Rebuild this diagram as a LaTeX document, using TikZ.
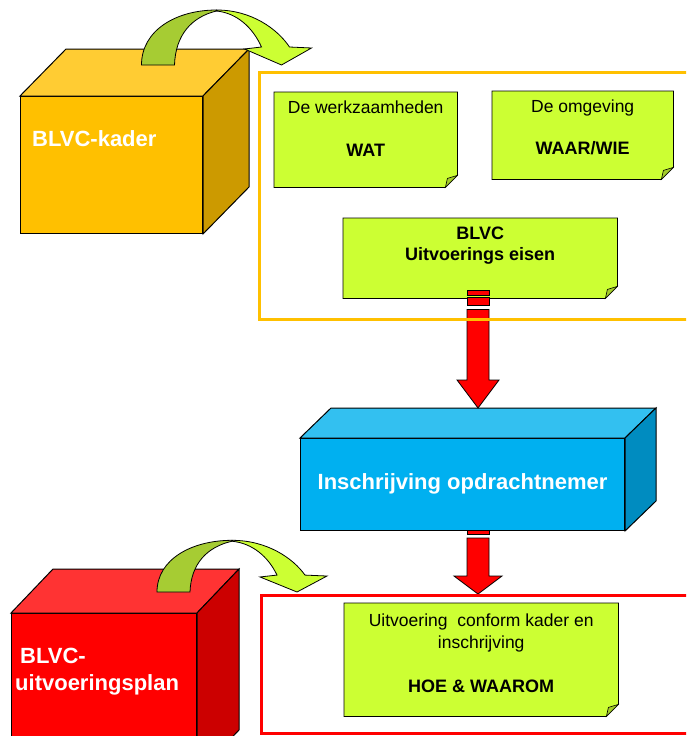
\documentclass[tikz,border=0pt]{standalone}
\usepackage{fontspec}
\setmainfont{Liberation Sans}
\usetikzlibrary{calc,backgrounds,positioning}

\definecolor{kaderfront}{HTML}{FFC000}
\definecolor{kadertop}{HTML}{FFCC33}
\definecolor{kaderside}{HTML}{CC9A00}
\definecolor{inschrfront}{HTML}{00B0F0}
\definecolor{inschrtop}{HTML}{33C0F0}
\definecolor{inschrside}{HTML}{008CC0}
\definecolor{planfront}{HTML}{FF0000}
\definecolor{plantop}{HTML}{FF3333}
\definecolor{planside}{HTML}{CC0000}
\definecolor{notegreen}{HTML}{CCFF33}
\definecolor{notefold}{HTML}{A3CC29}
\definecolor{curldark}{HTML}{A6CC33}
\definecolor{curllight}{HTML}{CCFF33}

\tikzset{
  cubefront/.style={draw=black, line width=1pt, anchor=north west, inner sep=0pt},
  note/.style={anchor=north west, inner sep=0pt},
  frame/.style={line width=3pt, anchor=north west, inner sep=0pt},
  notetxt/.style={anchor=base, inner sep=0pt, font=\fontsize{17.5}{20}\selectfont},
  notebold/.style={anchor=base, inner sep=0pt, font=\fontsize{18}{21}\selectfont\bfseries},
  cubetxt/.style={anchor=base west, inner sep=0pt, text=white,
    font=\fontsize{22}{26}\selectfont\bfseries},
  redblock/.style={fill=red, draw=black, line width=0.8pt},
  pics/curlarrow/.style={code={
    \filldraw[draw=black, line width=0.8pt, fill=curldark]
      (0,0) .. controls (0,-35) and (35,-55) .. (75,-55) -- (75,-54)
      .. controls (50,-48) and (34,-30) .. (33,0) -- cycle;
    \filldraw[draw=black, line width=0.8pt, fill=curllight]
      (75,-55) .. controls (110,-55) and (136,-36) .. (148,-18) -- (170,-17)
      -- (140,0) -- (103,-16) -- (120,-18)
      .. controls (111,-38) and (95,-52) .. (75,-54) -- cycle;
  }}
}

% top and side of a box: node, dx, dy, top colour, side colour
\newcommand{\cubesides}[5]{%
  \filldraw[draw=black, line width=1pt, fill=#4] (#1.north west) -- ++(#2,#3)
    -- ($(#1.north east)+(#2,#3)$) -- (#1.north east) -- cycle;
  \filldraw[draw=black, line width=1pt, fill=#5] (#1.north east) -- ++(#2,#3)
    -- ($(#1.south east)+(#2,#3)$) -- (#1.south east) -- cycle;
}

% green sheet with folded corner, behind the text
\newcommand{\notepaper}[1]{%
  \begin{pgfonlayer}{background}
  \filldraw[draw=black, line width=0.8pt, fill=notegreen] (#1.north west) -- (#1.north east)
    -- ($(#1.south east)+(0,-12)$) -- ($(#1.south east)+(-12,0)$) -- (#1.south west) -- cycle;
  \filldraw[draw=black, line width=0.6pt, fill=notefold] ($(#1.south east)+(0,-12)$)
    -- ($(#1.south east)+(-12,0)$) -- ($(#1.south east)+(-10,-9)$) -- cycle;
  \end{pgfonlayer}}

% start, tip, head length, head half width
\newcommand{\redblockarrow}[4]{%
  \filldraw[redblock] ($(#1)+(-11,0)$) rectangle ($(#1)+(11,5)$);
  \filldraw[redblock] ($(#1)+(-11,7)$) rectangle ($(#1)+(11,15)$);
  \filldraw[redblock] ($(#1)+(-11,19)$) -- ($(#2)+(-11,-#3)$) -- ($(#2)+(-#4,-#3)$)
    -- (#2) -- ($(#2)+(#4,-#3)$) -- ($(#2)+(11,-#3)$) -- ($(#1)+(11,19)$) -- cycle;
}

\begin{document}
\begin{tikzpicture}[x=1pt,y=-1pt]
\useasboundingbox (0,0) rectangle (686,736);
\clip (0,0) rectangle (686,736);

%% BLVC-kader
\node[cubefront, fill=kaderfront, minimum width=182pt, minimum height=137pt] (kader) at (20,96) {};
\cubesides{kader}{46}{-47}{kadertop}{kaderside}
\node[cubetxt] (kader-t) at ([xshift=12pt,yshift=-50pt]kader.north west) {BLVC-kader};
\coordinate (kader-foot) at ($(kader.north)+(30,-31)$);
\pic at (kader-foot) {curlarrow};

%% notes in the kader
\node[note, minimum width=183pt, minimum height=95pt] (wat) at (274,92) {};
\notepaper{wat}
\node[notetxt] (wat-t) at ([yshift=-21pt]wat.north) {De werkzaamheden};
\node[notebold] (wat-b) at ([yshift=-64pt]wat.north) {WAT};

\node[note, minimum width=181pt, minimum height=88pt] (waar) at (492,91) {};
\notepaper{waar}
\node[notetxt] (waar-t) at ([yshift=-21pt]waar.north) {De omgeving};
\node[notebold] (waar-b) at ([yshift=-63pt]waar.north) {WAAR/WIE};

\node[note, minimum width=274pt, minimum height=80pt] (eisen) at (343,218) {};
\notepaper{eisen}
\node[notebold] (eisen-a) at ([yshift=-21pt]eisen.north) {BLVC};
\node[notebold] (eisen-b) at ([yshift=-42pt]eisen.north) {Uitvoerings eisen};

%% inschrijving
\node[cubefront, fill=inschrfront, minimum width=324pt, minimum height=92pt] (inschr) at (300,438) {};
\cubesides{inschr}{31}{-30}{inschrtop}{inschrside}
\node[cubetxt, anchor=base] (inschr-t) at ([yshift=-51pt]inschr.north) {Inschrijving opdrachtnemer};

\coordinate (r1t) at ($(inschr.north)+(15.5,-30)$);
\coordinate (r1s) at ($(r1t |- eisen.south)+(0,-8)$);
\redblockarrow{r1s}{r1t}{28}{21}
\node[frame, draw=kaderfront, minimum width=442pt, minimum height=247pt] (kaderframe) at (258,71) {};

%% uitvoeringsplan
\node[frame, draw=planfront, minimum width=440pt, minimum height=138pt] (planframe) at (260,594) {};
\coordinate (r2s) at ($(r1t |- inschr.south)+(0,-12)$);
\coordinate (r2t) at (r1t |- planframe.north);
\begin{pgfonlayer}{background}
\redblockarrow{r2s}{r2t}{18}{24}
\end{pgfonlayer}

\node[note, minimum width=274pt, minimum height=113pt] (hoe) at (344,603) {};
\notepaper{hoe}
\node[notetxt] (hoe-a) at ([yshift=-23pt]hoe.north) {Uitvoering\ \ conform kader en};
\node[notetxt] (hoe-b) at ([yshift=-45pt]hoe.north) {inschrijving};
\node[notebold] (hoe-c) at ([yshift=-89pt]hoe.north) {HOE \& WAAROM};

\node[cubefront, fill=planfront, minimum width=185pt, minimum height=160pt] (plan) at (11,613) {};
\cubesides{plan}{42}{-44}{plantop}{planside}
\node[cubetxt] (plan-a) at ([xshift=9pt,yshift=-50pt]plan.north west) {BLVC-};
\node[cubetxt] (plan-b) at ([xshift=4pt,yshift=-77pt]plan.north west) {uitvoeringsplan};
\coordinate (plan-foot) at ($(plan.north)+(53,-21)$);
\pic[yscale=0.94] at (plan-foot) {curlarrow};
\end{tikzpicture}
\end{document}
